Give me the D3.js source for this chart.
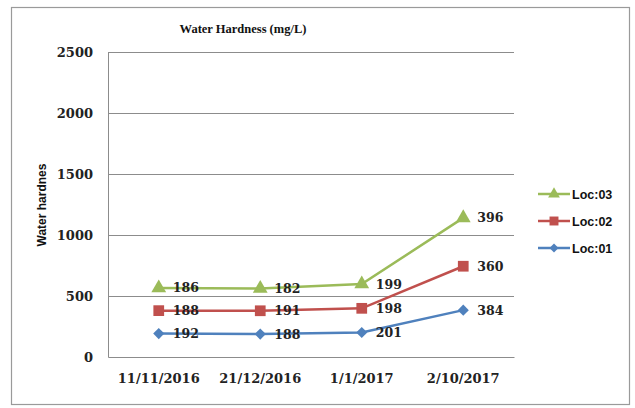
<!DOCTYPE html>
<html>
<head>
<meta charset="utf-8">
<script src="https://cdn.jsdelivr.net/npm/d3@7"></script>
<style>
    body { margin: 0; background: #fff; }
    .tick text { font-family: "DejaVu Serif", "Liberation Serif", serif; font-weight: bold; fill: #222; }
</style>
</head>
<body>
<div id="chart"></div>
<script>
// data (Excel stacked line)
var dates = ["11/11/2016", "21/12/2016", "1/1/2017", "2/10/2017"];
var seriesNames = ["Loc:01", "Loc:02", "Loc:03"];
var loc01 = [192, 188, 201, 384];
var loc02 = [188, 191, 198, 360];
var loc03 = [186, 182, 199, 396];
var yTicks = [0, 500, 1000, 1500, 2000, 2500];
var colors = ["#4F81BD", "#C0504D", "#9BBB59"];
var markers = ["diamond", "square", "triangle"];

var W = 635, H = 408;
var margin = { top: 52, right: 121, bottom: 51, left: 108 };
var width = W - margin.left - margin.right,
    height = H - margin.top - margin.bottom;

var svg = d3.select("#chart").append("svg")
    .attr("width", W)
    .attr("height", H);

// outer frame
svg.append("rect")
    .attr("x", 11.5).attr("y", 7.5)
    .attr("width", 618).attr("height", 397)
    .attr("fill", "#fff")
    .attr("stroke", "#9a9a9a")
    .attr("stroke-width", 1.2);

svg.append("text")
    .attr("x", 243).attr("y", 33)
    .attr("text-anchor", "middle")
    .style("font-family", "Liberation Serif, serif")
    .style("font-weight", "bold")
    .style("font-size", "12.5px")
    .style("fill", "#111")
    .text("Water Hardness (mg/L)");

var g = svg.append("g")
    .attr("transform", "translate(" + margin.left + "," + margin.top + ")");

var x = d3.scaleBand().domain(dates).range([0, width]);
var y = d3.scaleLinear().domain([0, 2500]).range([height, 0]);

// gridlines
g.selectAll(".grid").data(yTicks.slice(1)).enter().append("line")
    .attr("class", "grid")
    .attr("x1", 0).attr("x2", width)
    .attr("y1", function (d) { return y(d) + 0.5; })
    .attr("y2", function (d) { return y(d) + 0.5; })
    .attr("stroke", "#8c8c8c")
    .attr("stroke-width", 1);

var yAxis = d3.axisLeft(y).tickValues(yTicks).tickFormat(d3.format("d")).tickSize(0).tickPadding(15);
var yg = g.append("g").call(yAxis);
yg.select(".domain").attr("stroke", "#8c8c8c");
yg.selectAll(".tick text").style("font-size", "13px");

var xAxis = d3.axisBottom(x).tickSize(0).tickPadding(17);
var xg = g.append("g")
    .attr("transform", "translate(0," + height + ")")
    .call(xAxis);
xg.select(".domain").attr("stroke", "#8c8c8c");
xg.selectAll(".tick text").style("font-size", "13px");

svg.append("text")
    .attr("transform", "translate(46,205) rotate(-90)")
    .attr("text-anchor", "middle")
    .style("font-family", "Liberation Sans, Arial, sans-serif")
    .style("font-weight", "bold")
    .style("font-size", "12px")
    .style("fill", "#111")
    .text("Water hardnes");

// stack the series
var raw = [loc01, loc02, loc03];
var stacked = [];
var running = dates.map(function () { return 0; });
raw.forEach(function (vals, s) {
    running = running.map(function (r, i) { return r + vals[i]; });
    stacked.push(running.map(function (c, i) {
        return { date: dates[i], total: c, value: vals[i] };
    }));
});

var line = d3.line()
    .x(function (d) { return x(d.date) + x.bandwidth() / 2; })
    .y(function (d) { return y(d.total); });

function symbolFor(type, size) {
    if (type == "diamond") return d3.symbol().type(d3.symbolSquare).size(size || 62);
    if (type == "square") return d3.symbol().type(d3.symbolSquare).size(size || 115);
    return d3.symbol().type(d3.symbolTriangle).size(size || 95);
}
function rot(type) { return type == "diamond" ? " rotate(45)" : ""; }

stacked.forEach(function (data, s) {
    g.append("path")
        .datum(data)
        .attr("d", line)
        .attr("fill", "none")
        .attr("stroke", colors[s])
        .attr("stroke-width", 2.5);

    g.selectAll(".m" + s).data(data).enter().append("path")
        .attr("class", "m" + s)
        .attr("d", symbolFor(markers[s]))
        .attr("transform", function (d) {
            return "translate(" + (x(d.date) + x.bandwidth() / 2) + "," + y(d.total) + ")" + rot(markers[s]);
        })
        .attr("fill", colors[s]);

    g.selectAll(".l" + s).data(data).enter().append("text")
        .attr("class", "l" + s)
        .attr("x", function (d) { return x(d.date) + x.bandwidth() / 2 + 14; })
        .attr("y", function (d) { return y(d.total); })
        .attr("dy", "0.36em")
        .style("font-family", "DejaVu Serif, serif")
        .style("font-weight", "bold")
        .style("font-size", "12.5px")
        .style("fill", "#222")
        .text(function (d) { return d.value; });
});

// legend, reversed like Excel
var legend = svg.append("g");
var legendY = [248, 221, 194];
seriesNames.forEach(function (name, s) {
    var row = legend.append("g")
        .attr("transform", "translate(538," + legendY[s] + ")");
    row.append("line")
        .attr("x1", 0).attr("x2", 32)
        .attr("stroke", colors[s])
        .attr("stroke-width", 2.5);
    row.append("path")
        .attr("d", symbolFor(markers[s], markers[s] == "square" ? 80 : (markers[s] == "diamond" ? 40 : 60)))
        .attr("transform", "translate(16,0)" + rot(markers[s]))
        .attr("fill", colors[s]);
    row.append("text")
        .attr("x", 34).attr("dy", "0.36em")
        .style("font-family", "Liberation Sans, Arial, sans-serif")
        .style("font-weight", "bold")
        .style("font-size", "12.5px")
        .style("fill", "#111")
        .text(name);
});
</script>
</body>
</html>
